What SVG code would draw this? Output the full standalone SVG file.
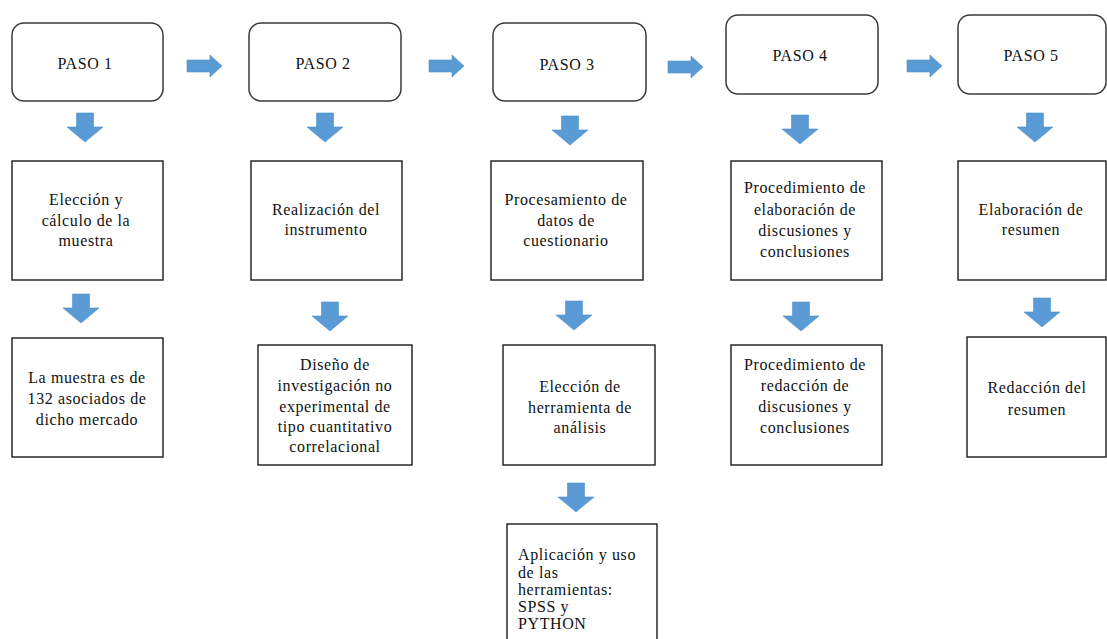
<svg xmlns="http://www.w3.org/2000/svg" width="1107" height="639" viewBox="0 0 1107 639">
<style>
.bg{fill:#ffffff}
.step{fill:#ffffff;stroke:#3a3a3a;stroke-width:1.5}
.box{fill:#ffffff;stroke:#1a1a1a;stroke-width:1.4}
.arrow{fill:#5b9bd5;stroke:#4f8fc9;stroke-width:0.6}
.c{text-anchor:middle}
</style>
<defs>
<path id="ra" d="M0,5 H23 V0 L35,11 L23,22 V17 H0 Z"/>
<path id="da" d="M9.5,0 H26.5 V14 H36 L18,29 L0,14 H9.5 Z"/>
</defs>
<rect class="bg" x="0" y="0" width="1107" height="639"/>

<g id="connectors">
<use href="#ra" class="arrow" x="187" y="55"/>
<use href="#ra" class="arrow" x="429" y="55"/>
<use href="#ra" class="arrow" x="668" y="56"/>
<use href="#ra" class="arrow" x="907" y="55"/>
<use href="#da" class="arrow" x="67" y="113"/>
<use href="#da" class="arrow" x="307" y="113"/>
<use href="#da" class="arrow" x="552" y="116"/>
<use href="#da" class="arrow" x="782" y="115"/>
<use href="#da" class="arrow" x="1017" y="113"/>
<use href="#da" class="arrow" x="63" y="294"/>
<use href="#da" class="arrow" x="312" y="302"/>
<use href="#da" class="arrow" x="556" y="301"/>
<use href="#da" class="arrow" x="783" y="302"/>
<use href="#da" class="arrow" x="1024" y="298"/>
<use href="#da" class="arrow" x="558" y="483"/>
</g>

<g font-size="16" fill="#111111" letter-spacing="0.6" font-family="Liberation Serif, Times New Roman, serif">
<g id="paso1"><rect class="step" x="12" y="23" width="151" height="78" rx="12"/><text class="c" x="85" y="69">PASO 1</text></g>
<g id="paso2"><rect class="step" x="249" y="23" width="152" height="78" rx="12"/><text class="c" x="323" y="69">PASO 2</text></g>
<g id="paso3"><rect class="step" x="493" y="23" width="153" height="78" rx="12"/><text class="c" x="567" y="70">PASO 3</text></g>
<g id="paso4"><rect class="step" x="726" y="15" width="152" height="79" rx="12"/><text class="c" x="800" y="61">PASO 4</text></g>
<g id="paso5"><rect class="step" x="958" y="15" width="148" height="79" rx="12"/><text class="c" x="1031" y="61">PASO 5</text></g>

<g id="n1a"><rect class="box" x="12" y="161" width="151" height="119"/>
<text class="c" x="86" y="205">Elección y</text><text class="c" x="86" y="226">cálculo de la</text><text class="c" x="86" y="246">muestra</text></g>
<g id="n2a"><rect class="box" x="251" y="161" width="151" height="119"/>
<text class="c" x="326" y="215">Realización del</text><text class="c" x="326" y="235">instrumento</text></g>
<g id="n3a"><rect class="box" x="491" y="161" width="152" height="119"/>
<text class="c" x="566" y="205">Procesamiento de</text><text class="c" x="566" y="226">datos de</text><text class="c" x="566" y="246">cuestionario</text></g>
<g id="n4a"><rect class="box" x="731" y="161" width="151" height="119"/>
<text class="c" x="805" y="193">Procedimiento de</text><text class="c" x="805" y="215">elaboración de</text><text class="c" x="805" y="236">discusiones y</text><text class="c" x="805" y="257">conclusiones</text></g>
<g id="n5a"><rect class="box" x="958" y="161" width="148" height="119"/>
<text class="c" x="1031" y="215">Elaboración de</text><text class="c" x="1031" y="235">resumen</text></g>

<g id="n1b"><rect class="box" x="12" y="338" width="151" height="119"/>
<text class="c" x="87" y="383">La muestra es de</text><text class="c" x="87" y="404">132 asociados de</text><text class="c" x="87" y="425">dicho mercado</text></g>
<g id="n2b"><rect class="box" x="258" y="345" width="154" height="120"/>
<text class="c" x="335" y="370">Diseño de</text><text class="c" x="335" y="391">investigación no</text><text class="c" x="335" y="412">experimental de</text><text class="c" x="335" y="432">tipo cuantitativo</text><text class="c" x="335" y="452">correlacional</text></g>
<g id="n3b"><rect class="box" x="503" y="345" width="152" height="120"/>
<text class="c" x="580" y="392">Elección de</text><text class="c" x="580" y="413">herramienta de</text><text class="c" x="580" y="433">análisis</text></g>
<g id="n4b"><rect class="box" x="731" y="345" width="151" height="120"/>
<text class="c" x="805" y="370">Procedimiento de</text><text class="c" x="805" y="391">redacción de</text><text class="c" x="805" y="412">discusiones y</text><text class="c" x="805" y="433">conclusiones</text></g>
<g id="n5b"><rect class="box" x="967" y="337" width="139" height="120"/>
<text class="c" x="1037" y="393">Redacción del</text><text class="c" x="1037" y="415">resumen</text></g>

<g id="n3c"><rect class="box" x="507" y="524" width="150" height="130"/>
<text x="518" y="560">Aplicación y uso</text><text x="518" y="578">de las</text><text x="518" y="595">herramientas:</text><text x="518" y="612">SPSS y</text><text x="518" y="629">PYTHON</text></g>
</g>
</svg>
